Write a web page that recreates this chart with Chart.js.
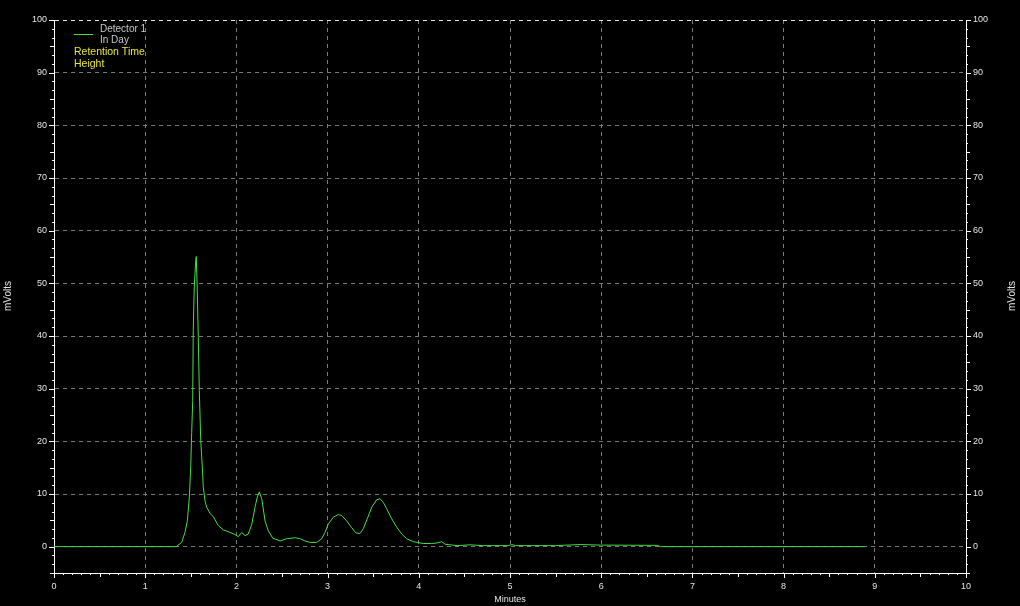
<!DOCTYPE html>
<html>
<head>
<meta charset="utf-8">
<script src="https://cdn.jsdelivr.net/npm/chart.js@4/dist/chart.umd.min.js"></script>
<style>
  body { margin: 0; background: #000; }
  #grafico { display: block; }
</style>
</head>
<body>
<canvas id="grafico" width="1020" height="606"></canvas>
<script>
const minutos = [0, 1.34, 1.40, 1.436, 1.462, 1.484, 1.499, 1.510, 1.521, 1.527, 1.538, 1.554, 1.560, 1.571, 1.582, 1.593, 1.609, 1.626, 1.637, 1.656, 1.674, 1.711, 1.747, 1.802, 1.856, 1.93, 1.985, 2.021, 2.058, 2.094, 2.130, 2.168, 2.204, 2.229, 2.251, 2.278, 2.314, 2.350, 2.40, 2.48, 2.55, 2.64, 2.70, 2.75, 2.81, 2.88, 2.935, 2.971, 3.008, 3.063, 3.117, 3.155, 3.209, 3.264, 3.311, 3.355, 3.391, 3.435, 3.484, 3.538, 3.575, 3.611, 3.648, 3.703, 3.758, 3.813, 3.867, 3.94, 4.05, 4.14, 4.20, 4.25, 4.29, 4.42, 4.56, 4.70, 4.98, 5.02, 5.06, 5.5, 5.77, 5.99, 6.61, 6.65, 8.89];
const mvolts = [0, 0, 0.8, 2.7, 4.9, 9.4, 15.1, 21.7, 27.8, 41.1, 49.3, 54.4, 55.1, 48.7, 39.9, 29.7, 20.2, 15.1, 11.3, 8.7, 7.5, 6.3, 5.7, 4.0, 3.2, 2.7, 2.3, 1.9, 2.7, 2.1, 2.4, 4.2, 7.5, 9.4, 10.4, 9.1, 4.9, 3.0, 1.6, 1.1, 1.5, 1.7, 1.5, 1.1, 0.8, 0.8, 1.5, 2.7, 4.3, 5.6, 6.1, 5.9, 4.9, 3.6, 2.6, 2.5, 3.4, 5.3, 7.5, 8.9, 9.1, 8.4, 7.2, 5.3, 3.7, 2.4, 1.5, 0.95, 0.6, 0.6, 0.7, 0.95, 0.45, 0.2, 0.35, 0.2, 0.2, 0.4, 0.2, 0.2, 0.4, 0.3, 0.25, 0, 0];

const ticksX = [0, 1, 2, 3, 4, 5, 6, 7, 8, 9, 10];
const ticksY = [0, 10, 20, 30, 40, 50, 60, 70, 80, 90, 100];

const verde = "rgb(70,220,70)";
const gris = "#7a7a7a";
const textoEjes = "#e4e4e4";
const fuente = "'Liberation Sans', Arial, sans-serif";

Chart.defaults.font.family = fuente;
Chart.defaults.font.size = 9;

// marcas menores de los ejes y textos sueltos (leyenda, titulos)
const decoracion = {
    id: "decoracion",
    afterDraw(chart) {
        const { ctx, chartArea: a } = chart;
        const x = chart.scales.x;
        const y = chart.scales.y;
        ctx.save();
        ctx.strokeStyle = "#fff";
        ctx.lineWidth = 1;
        ctx.beginPath();
        for (let i = 0; i <= 100; i++) {
            const px = Math.round(x.getPixelForValue(i / 10)) + 0.5;
            const largo = i % 10 === 0 ? 5 : (i % 5 === 0 ? 4 : 2);
            ctx.moveTo(px, a.bottom);
            ctx.lineTo(px, a.bottom + largo);
        }
        for (let i = -3; i <= 60; i++) {
            const py = Math.round(y.getPixelForValue(i * 10 / 6)) + 0.5;
            const largo = i % 6 === 0 ? 5 : (i % 3 === 0 ? 4 : 2);
            ctx.moveTo(a.left, py);
            ctx.lineTo(a.left - largo, py);
            ctx.moveTo(a.right, py);
            ctx.lineTo(a.right + largo, py);
        }
        ctx.stroke();

        // leyenda
        ctx.strokeStyle = verde;
        ctx.beginPath();
        ctx.moveTo(74, 34.5);
        ctx.lineTo(93, 34.5);
        ctx.stroke();
        ctx.textBaseline = "alphabetic";
        ctx.textAlign = "left";
        ctx.font = "10px " + fuente;
        ctx.fillStyle = "#c8c8c8";
        ctx.fillText("Detector 1", 100, 31.5);
        ctx.fillText("In Day", 100, 42.5);
        ctx.font = "10.5px " + fuente;
        ctx.fillStyle = "#e6e63c";
        ctx.fillText("Retention Time", 74, 55);
        ctx.fillText("Height", 74, 67);

        // titulos de los ejes
        ctx.fillStyle = textoEjes;
        ctx.font = "9px " + fuente;
        ctx.textAlign = "center";
        ctx.fillText("Minutes", (a.left + a.right) / 2, 602);
        ctx.font = "10px " + fuente;
        ctx.textBaseline = "middle";
        [8, 1012].forEach(cx => {
            ctx.save();
            ctx.translate(cx, 296);
            ctx.rotate(-Math.PI / 2);
            ctx.fillText("mVolts", 0, 0);
            ctx.restore();
        });
        ctx.restore();
    }
};

const ctx = document.getElementById("grafico").getContext("2d");
const puntos = minutos.map((t, i) => ({ x: t, y: mvolts[i] }));

new Chart(ctx, {
    type: "line",
    data: {
        datasets: [{
            label: "Detector 1",
            data: puntos,
            borderColor: verde,
            borderWidth: 1,
            pointRadius: 0,
            tension: 0,
            fill: false
        }]
    },
    options: {
        responsive: false,
        animation: false,
        devicePixelRatio: 1,
        layout: { padding: { top: 20, left: 0, right: 0, bottom: 0 } },
        plugins: { legend: { display: false }, tooltip: { enabled: false } },
        scales: {
            x: {
                type: "linear",
                position: "bottom",
                min: 0,
                max: 10,
                afterBuildTicks: s => { s.ticks = ticksX.map(v => ({ value: v })); },
                afterFit: s => { s.height = 33; },
                ticks: { color: textoEjes, padding: 8, maxRotation: 0 },
                grid: {
                    drawTicks: false,
                    color: c => (c.tick && (c.tick.value === 0 || c.tick.value === 10)) ? "rgba(0,0,0,0)" : gris
                },
                border: { display: true, color: "#fff", width: 1, dash: [4, 4] }
            },
            y: {
                position: "left",
                min: -5,
                max: 100,
                afterBuildTicks: s => { s.ticks = ticksY.map(v => ({ value: v })); },
                afterFit: s => { s.width = 54; },
                ticks: { color: textoEjes, padding: 7 },
                grid: {
                    drawTicks: false,
                    color: c => (c.tick && c.tick.value === 100) ? "#e8e8e8" : gris
                },
                border: { display: true, color: "#fff", width: 1, dash: [4, 4] }
            },
            y2: {
                position: "right",
                min: -5,
                max: 100,
                afterBuildTicks: s => { s.ticks = ticksY.map(v => ({ value: v })); },
                afterFit: s => { s.width = 54; },
                ticks: { color: textoEjes, padding: 7 },
                grid: { drawTicks: false, drawOnChartArea: false },
                border: { display: true, color: "#fff", width: 1 }
            }
        }
    },
    plugins: [decoracion]
});
</script>
</body>
</html>
